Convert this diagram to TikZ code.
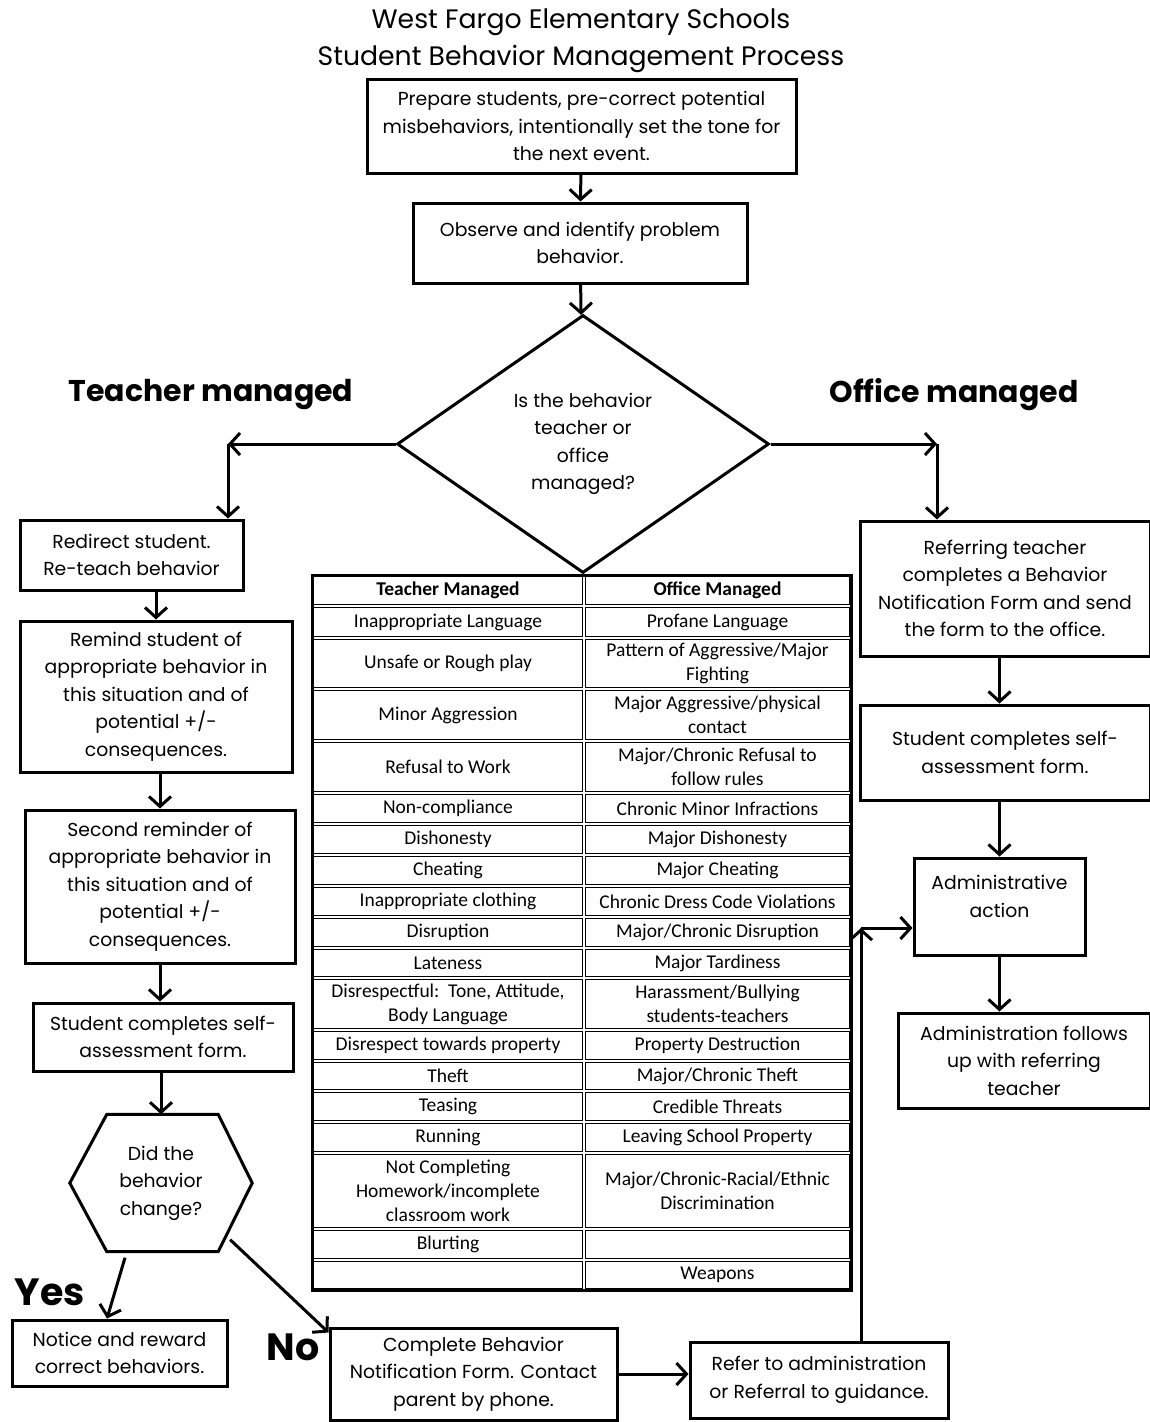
\documentclass[tikz,border=0pt]{standalone}
\usepackage{fontspec}
\setmainfont{Poppins}
\newfontfamily\tablefont{Carlito}
\usepackage{tikz}
\usetikzlibrary{arrows.meta}
\usetikzlibrary{positioning}
\usetikzlibrary{shapes.geometric}

\begin{document}
\begin{tikzpicture}[x=1pt, y=-1pt,
    box/.style={draw, line width=3pt, inner sep=0pt, align=center,
        font=\fontsize{18.8}{27.5}\selectfont},
    arr/.style={line width=3pt, -{Straight Barb[length=10pt,width=22pt,line width=3pt]}},
    cell/.style={draw, line width=1.6pt},
    celltext/.style={align=center, inner sep=0pt, font=\tablefont\fontsize{19.5}{24}\selectfont},
    heading/.style={font=\bfseries\fontsize{30}{34}\selectfont},
    answer/.style={font=\bfseries\fontsize{38}{40}\selectfont}]

    \useasboundingbox (0,0) rectangle (1150,1422);

    % Title
    \node (title) at (581,41) [align=center, font=\fontsize{26.7}{37}\selectfont]
        {West Fargo Elementary Schools\\Student Behavior Management Process};

    % Start of the process
    \node (prep) at (581.5,126) [box, minimum width=429pt, minimum height=94pt]
        {Prepare students, pre-correct potential\\misbehaviors, intentionally set the tone for\\the next event.};
    \node (observe) at (580,243) [box, minimum width=334pt, minimum height=80pt]
        {Observe and identify problem\\behavior.};
    \node (decide) at (583,444) [box, diamond, minimum width=372pt, minimum height=258pt]
        {Is the behavior\\teacher or\\office\\managed?};
    \draw[arr] (prep) -- (observe);
    \draw[arr] (observe) -- (decide);

    % Branch labels
    \node (teacherlbl) at (211,395) [heading] {Teacher managed};
    \node (officelbl) at (954,395) [heading] {Office managed};

    % Teacher managed side
    \node (redirect) at (131.5,555) [box, minimum width=223pt, minimum height=70pt]
        {Redirect student.\\Re-teach behavior};
    \node (remind) at (156,696.5) [box, minimum width=272pt, minimum height=151pt]
        {Remind student of\\appropriate behavior in\\this situation and of\\potential +/-\\consequences.};
    \node (second) at (160,886.5) [box, minimum width=270pt, minimum height=153pt]
        {Second reminder of\\appropriate behavior in\\this situation and of\\potential +/-\\consequences.};
    \node (selfleft) at (163,1037) [box, minimum width=260pt, minimum height=68pt]
        {Student completes self-\\assessment form.};
    \node (hex) at (161,1183) [minimum width=182pt, minimum height=137pt, inner sep=0pt,
        align=center, font=\fontsize{18.8}{27.5}\selectfont] {Did the\\behavior\\change?};
    \draw[line width=3pt, line join=miter] ([xshift=37pt]hex.north west) -- ([xshift=-34pt]hex.north east)
        -- (hex.east) -- ([xshift=-34pt]hex.south east) -- ([xshift=37pt]hex.south west)
        -- (hex.west) -- cycle;
    \node (notice) at (119.5,1353) [box, minimum width=215pt, minimum height=66pt]
        {Notice and reward\\correct behaviors.};
    \node (complete) at (473.5,1374) [box, minimum width=287pt, minimum height=92pt]
        {Complete Behavior\\Notification Form. Contact\\parent by phone.};
    \node (refer) at (819,1380) [box, minimum width=258pt, minimum height=76pt]
        {Refer to administration\\or Referral to guidance.};
    \node (yes) at (50,1292) [answer] {Yes};
    \node (no) at (293,1347) [answer] {No};

    \coordinate (tbend) at (228,444);
    \draw[arr] (decide.west) -- (tbend);
    \draw[arr] (tbend) -- (tbend |- redirect.north);
    \draw[arr] (remind.north |- redirect.south) -- (remind.north);
    \draw[arr] (second.north |- remind.south) -- (second.north);
    \draw[arr] (second.south) -- (second.south |- selfleft.north);
    \draw[arr] (hex.north |- selfleft.south) -- (hex.north);
    \draw[arr] ([xshift=-36pt,yshift=-6pt]hex.south) -- ([xshift=-12.5pt]notice.north);
    \draw[arr] ([xshift=-22pt,yshift=12pt]hex.south east) -- ([yshift=-6pt]complete.north west);
    \draw[arr] (complete.east) -- (complete.east -| refer.west);

    % Office managed side
    \node (referring) at (1005,588.5) [box, minimum width=290pt, minimum height=135pt]
        {Referring teacher\\completes a Behavior\\Notification Form and send\\the form to the office.};
    \node (selfright) at (1005,752.5) [box, minimum width=290pt, minimum height=95pt]
        {Student completes self-\\assessment form.};
    \node (admin) at (999.5,906.5) [box, minimum width=171pt, minimum height=97pt] {};
    \node (admintext) at ([yshift=10pt]admin.center) [align=center, inner sep=0pt,
        font=\fontsize{18.8}{27.5}\selectfont] {Administrative\\action};
    \node (follows) at (1024,1060.5) [box, minimum width=252pt, minimum height=95pt]
        {Administration follows\\up with referring\\teacher};

    \coordinate (obend) at (937,444);
    \draw[arr] (decide.east) -- (obend);
    \draw[arr] (obend) -- (obend |- referring.north);
    \draw[arr] (admin.north |- referring.south) -- (admin.north |- selfright.north);
    \draw[arr] (admin.north |- selfright.south) -- (admin.north);
    \draw[arr] (admin.south) -- (admin.south |- follows.north);

    \coordinate (abend) at (861,928);
    \draw[arr] (refer.north -| abend) -- (abend);
    \draw[arr] (abend) -- (abend -| admin.west);

    % Table of behaviors
    \foreach \ya/\yb/\lt/\rt [count=\i] in {
        575/606/{\textbf{Teacher Managed}}/{\textbf{Office Managed}},
        606/638/{Inappropriate Language}/{Profane Language},
        638/689/{Unsafe or Rough play}/{Pattern of Aggressive/Major\\Fighting},
        689/741/{Minor Aggression}/{Major Aggressive/physical\\contact},
        741/793/{Refusal to Work}/{Major/Chronic Refusal to\\follow rules},
        793/824/{Non-compliance}/{Chronic Minor Infractions},
        824/855/{Dishonesty}/{Major Dishonesty},
        855/886/{Cheating}/{Major Cheating},
        886/917/{Inappropriate clothing}/{Chronic Dress Code Violations},
        917/948/{Disruption}/{Major/Chronic Disruption},
        948/978/{Lateness}/{Major Tardiness},
        978/1030/{Disrespectful:\ \ Tone, Attitude,\\Body Language}/{Harassment/Bullying\\students-teachers},
        1030/1061/{Disrespect towards property}/{Property Destruction},
        1061/1091/{Theft}/{Major/Chronic Theft},
        1091/1122/{Teasing}/{Credible Threats},
        1122/1153/{Running}/{Leaving School Property},
        1153/1229/{Not Completing\\Homework/incomplete\\classroom work}/{Major/Chronic-Racial/Ethnic\\Discrimination},
        1229/1260/{Blurting}/{},
        1260/1290/{}/{Weapons}} {
        \draw[cell] (313.5,\ya+1.5) rectangle (582.5,\yb-1.5) node[midway, celltext] (tm\i) {\lt};
        \draw[cell] (585.5,\ya+1.5) rectangle (849.5,\yb-1.5) node[midway, celltext] (om\i) {\rt};
    }
    \draw[line width=3pt] (312,575) rectangle (851,1290);

\end{tikzpicture}
\end{document}
